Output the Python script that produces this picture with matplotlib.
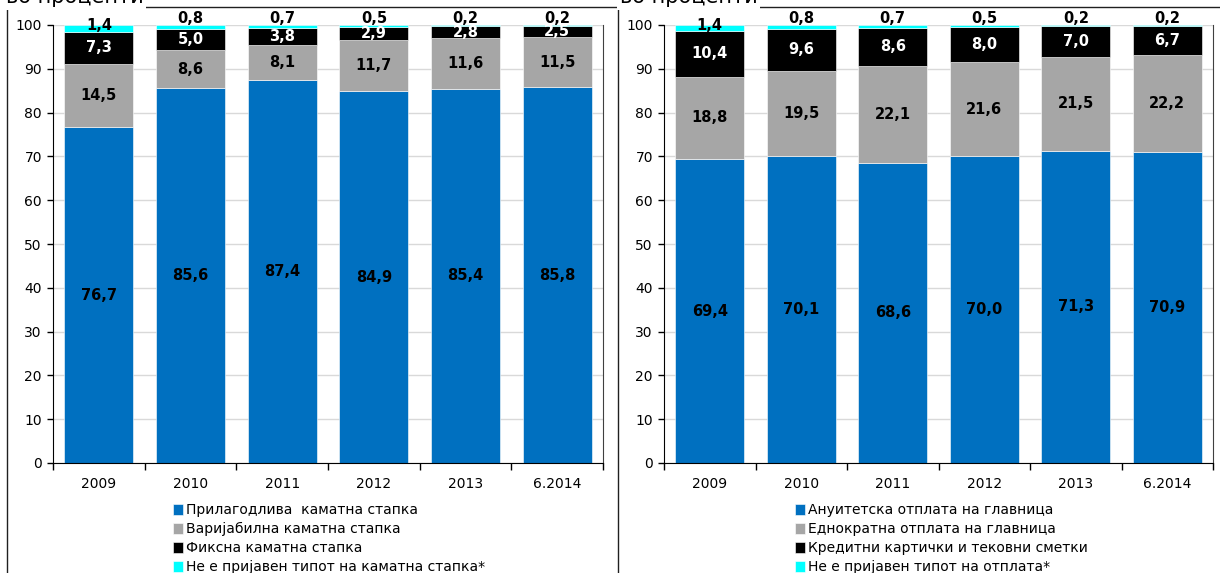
"""Household loans by interest rate type and by repayment type (percent shares)."""

import matplotlib

matplotlib.use("Agg")

import matplotlib.pyplot as plt
from matplotlib.lines import Line2D
import numpy as np

# --- Data ---
PERIODS = ["2009", "2010", "2011", "2012", "2013", "6.2014"]

# Left panel: by interest rate type
RATE_LABELS = [
    "Прилагодлива  каматна стапка",
    "Варијабилна каматна стапка",
    "Фиксна каматна стапка",
    "Не е пријавен типот на каматна стапка*",
]
RATE_ADJUSTABLE = [76.7, 85.6, 87.4, 84.9, 85.4, 85.8]
RATE_VARIABLE = [14.5, 8.6, 8.1, 11.7, 11.6, 11.5]
RATE_FIXED = [7.3, 5.0, 3.8, 2.9, 2.8, 2.5]
RATE_UNREPORTED = [1.4, 0.8, 0.7, 0.5, 0.2, 0.2]

# Right panel: by repayment type
PAY_LABELS = [
    "Ануитетска отплата на главница",
    "Еднократна отплата на главница",
    "Кредитни картички и тековни сметки",
    "Не е пријавен типот на отплата*",
]
PAY_ANNUITY = [69.4, 70.1, 68.6, 70.0, 71.3, 70.9]
PAY_BULLET = [18.8, 19.5, 22.1, 21.6, 21.5, 22.2]
PAY_CARDS = [10.4, 9.6, 8.6, 8.0, 7.0, 6.7]
PAY_UNREPORTED = [1.4, 0.8, 0.7, 0.5, 0.2, 0.2]

UNIT_TITLE = "во проценти"

# --- Style ---
COLORS = ["#0070C0", "#A6A6A6", "#000000", "#00FFFF"]
TEXT_COLORS = ["black", "black", "white", "black"]
GRID_COLOR = "#D9D9D9"
BAR_WIDTH = 0.75
FIG_W, FIG_H, DPI = 1220, 573, 100


def fmt(v):
    return f"{v:.1f}".replace(".", ",")


def draw_panel(ax, series, labels, legend_x):
    x = np.arange(len(PERIODS))
    bottom = np.zeros(len(PERIODS))
    for i, vals in enumerate(series):
        vals = np.array(vals)
        ax.bar(x, vals, BAR_WIDTH, bottom=bottom, color=COLORS[i],
               edgecolor="white", linewidth=0.4, label=labels[i], zorder=2)
        for xi, b, v in zip(x, bottom, vals):
            if i == len(series) - 1:
                # the thin top slice gets its label sitting on the bar top
                dy = 0 if v >= 1 else 5
                ax.annotate(fmt(v), (xi, 100), xytext=(0, dy),
                            textcoords="offset points", ha="center",
                            va="center", fontsize=10.5, fontweight="bold",
                            color=TEXT_COLORS[i], zorder=4)
            else:
                ax.text(xi, b + v / 2, fmt(v), ha="center", va="center",
                        fontsize=10.5, fontweight="bold",
                        color=TEXT_COLORS[i], zorder=4)
        bottom = bottom + vals

    ax.set_xlim(-0.5, len(PERIODS) - 0.5)
    ax.set_ylim(0, 100)
    ax.set_yticks(range(0, 101, 10))
    ax.yaxis.grid(True, color=GRID_COLOR, linewidth=1, zorder=0)
    ax.set_axisbelow(True)

    # category boundaries carry the ticks, labels sit in between
    ax.set_xticks(np.arange(-0.5, len(PERIODS)), minor=False)
    ax.set_xticklabels([])
    ax.set_xticks(x, minor=True)
    ax.set_xticklabels(PERIODS, minor=True)
    ax.tick_params(axis="x", which="major", direction="out", length=5,
                   width=1, color="black")
    ax.tick_params(axis="x", which="minor", length=0, pad=10, labelsize=10)
    ax.tick_params(axis="y", direction="out", length=4, width=1,
                   labelsize=10, pad=4)

    ax.spines["top"].set_visible(False)
    ax.spines["right"].set_color("#404040")
    for s in ("left", "bottom"):
        ax.spines[s].set_color("black")

    ax.legend(loc="upper left", bbox_to_anchor=(legend_x, -0.092),
              frameon=False, fontsize=10, handlelength=0.75,
              handleheight=0.75, handletextpad=0.2, labelspacing=0.36,
              borderaxespad=0, borderpad=0)


fig = plt.figure(figsize=(FIG_W / DPI, FIG_H / DPI), dpi=DPI)
fig.patch.set_facecolor("white")


def px_box(x0, x1, y_top, y_bottom):
    return [x0 / FIG_W, 1 - y_bottom / FIG_H,
            (x1 - x0) / FIG_W, (y_bottom - y_top) / FIG_H]


ax_left = fig.add_axes(px_box(53, 603, 25, 463))
ax_right = fig.add_axes(px_box(664, 1213, 25, 463))

draw_panel(ax_left,
           [RATE_ADJUSTABLE, RATE_VARIABLE, RATE_FIXED, RATE_UNREPORTED],
           RATE_LABELS, 0.218)
draw_panel(ax_right,
           [PAY_ANNUITY, PAY_BULLET, PAY_CARDS, PAY_UNREPORTED],
           PAY_LABELS, 0.238)

# panel frames
frame_kw = dict(color="#202020", linewidth=1.0, transform=fig.transFigure)
y_top = 1 - 7 / FIG_H
fig.add_artist(Line2D([7 / FIG_W, 1], [y_top, y_top], **frame_kw))
fig.add_artist(Line2D([7 / FIG_W, 7 / FIG_W], [0, y_top], **frame_kw))
fig.add_artist(Line2D([618 / FIG_W, 618 / FIG_W], [0, 1], **frame_kw))

for x0 in (6, 620):
    fig.text(x0 / FIG_W, 1 - 3 / FIG_H, UNIT_TITLE, fontsize=15,
             ha="left", va="baseline",
             bbox=dict(facecolor="white", edgecolor="none", pad=2))

fig.savefig("out.png", dpi=DPI)
